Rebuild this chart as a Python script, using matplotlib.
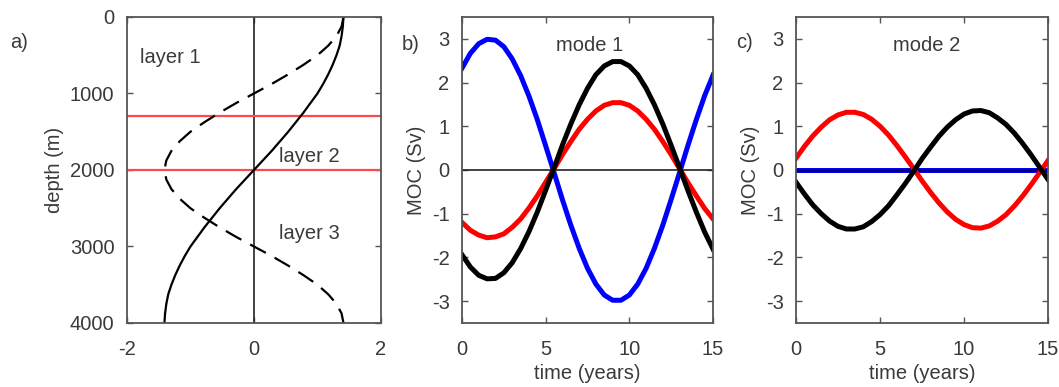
import numpy as np
import matplotlib
matplotlib.use("Agg")
import matplotlib.pyplot as plt

plt.rcParams['font.family'] = ['Liberation Sans', 'DejaVu Sans']
plt.rcParams['font.size'] = 14.5
plt.rcParams['axes.unicode_minus'] = False

# vertical structure of the two modes (a)
depth = [0, 125, 250, 375, 500, 625, 750, 875, 1000, 1125, 1250, 1375, 1500,
         1625, 1750, 1875, 2000, 2125, 2250, 2375, 2500, 2625, 2750, 2875,
         3000, 3125, 3250, 3375, 3500, 3625, 3750, 3875, 4000]
mode1_profile = [1.41, 1.40, 1.38, 1.35, 1.30, 1.24, 1.17, 1.09, 1.00, 0.89,
                 0.78, 0.66, 0.54, 0.41, 0.28, 0.14, 0.00, -0.14, -0.28, -0.41,
                 -0.54, -0.66, -0.78, -0.89, -1.00, -1.09, -1.17, -1.24, -1.30,
                 -1.35, -1.38, -1.40, -1.41]
mode2_profile = [1.41, 1.38, 1.30, 1.17, 1.00, 0.78, 0.54, 0.28, 0.00, -0.28,
                 -0.54, -0.78, -1.00, -1.17, -1.30, -1.38, -1.41, -1.38, -1.30,
                 -1.17, -1.00, -0.78, -0.54, -0.28, 0.00, 0.28, 0.54, 0.78,
                 1.00, 1.17, 1.30, 1.38, 1.41]
layer_bounds = [1300, 2000]

# MOC time series (b, c)
time = [0, 0.5, 1, 1.5, 2, 2.5, 3, 3.5, 4, 4.5, 5, 5.5, 6, 6.5, 7, 7.5, 8, 8.5,
        9, 9.5, 10, 10.5, 11, 11.5, 12, 12.5, 13, 13.5, 14, 14.5, 15]

m1_black = [-1.94, -2.22, -2.41, -2.49, -2.48, -2.35, -2.12, -1.80, -1.41, -0.96,
            -0.46, 0.05, 0.57, 1.05, 1.49, 1.87, 2.18, 2.38, 2.48, 2.48, 2.38,
            2.18, 1.87, 1.49, 1.05, 0.56, 0.05, -0.47, -0.96, -1.42, -1.81]
m1_red = [-1.20, -1.38, -1.49, -1.55, -1.53, -1.46, -1.31, -1.12, -0.87, -0.59,
          -0.28, 0.03, 0.35, 0.65, 0.93, 1.16, 1.35, 1.48, 1.54, 1.54, 1.48,
          1.35, 1.16, 0.93, 0.65, 0.35, 0.03, -0.29, -0.59, -0.88, -1.12]
m1_blue = [2.33, 2.67, 2.89, 2.99, 2.97, 2.82, 2.54, 2.16, 1.69, 1.15, 0.55,
           -0.06, -0.68, -1.26, -1.79, -2.25, -2.61, -2.86, -2.98, -2.98, -2.86,
           -2.61, -2.25, -1.79, -1.26, -0.67, -0.06, 0.56, 1.15, 1.70, 2.17]

m2_black = [-0.28, -0.55, -0.80, -1.00, -1.17, -1.29, -1.35, -1.35, -1.30, -1.18,
            -1.02, -0.82, -0.57, -0.31, -0.03, 0.26, 0.52, 0.77, 0.98, 1.15,
            1.28, 1.35, 1.36, 1.31, 1.19, 1.04, 0.84, 0.60, 0.34, 0.06, -0.22]
m2_red = [0.27, 0.54, 0.78, 0.98, 1.15, 1.26, 1.32, 1.32, 1.27, 1.16, 1.00,
          0.80, 0.56, 0.30, 0.03, -0.25, -0.51, -0.75, -0.96, -1.13, -1.25,
          -1.32, -1.33, -1.28, -1.17, -1.02, -0.82, -0.59, -0.33, -0.06, 0.22]
m2_blue = [0.0] * len(time)

frame_col = '#555555'
text_col = '#3a3a3a'


def style_axes(ax):
    for s in ax.spines.values():
        s.set_color(frame_col)
        s.set_linewidth(1.3)
    ax.tick_params(direction='in', length=4, width=1, color=frame_col,
                   labelcolor=text_col, top=True, right=True, pad=9)
    ax.tick_params(axis='x', pad=12)


fig = plt.figure(figsize=(10.59, 3.87), dpi=100)
ax_a = fig.add_axes([0.1199, 0.1654, 0.2398, 0.7907])
ax_b = fig.add_axes([0.4363, 0.1654, 0.2370, 0.7907])
ax_c = fig.add_axes([0.7517, 0.1654, 0.2380, 0.7907])

# panel a
ax_a.axvline(0, color='#222222', lw=1.2)
for d in layer_bounds:
    ax_a.axhline(d, color='#ff4a4a', lw=1.6)
ax_a.plot(mode1_profile, depth, color='black', lw=1.6)
ax_a.plot(mode2_profile, depth, color='black', lw=1.6, ls=(0, (8, 4.5)))
ax_a.set_xlim(-2, 2)
ax_a.set_ylim(4000, 0)
ax_a.set_xticks([-2, 0, 2])
ax_a.set_yticks([0, 1000, 2000, 3000, 4000])
ax_a.set_ylabel('depth (m)', color=text_col, labelpad=4)
ax_a.text(-1.8, 530, 'layer 1', color=text_col, va='center')
ax_a.text(0.4, 1820, 'layer 2', color=text_col, va='center')
ax_a.text(0.4, 2830, 'layer 3', color=text_col, va='center')
style_axes(ax_a)

# panel b
ax_b.axhline(0, color='#222222', lw=1.2)
ax_b.plot(time, m1_blue, color='#0000ff', lw=3.6)
ax_b.plot(time, m1_red, color='#ff0000', lw=3.6)
ax_b.plot(time, m1_black, color='black', lw=3.6)
ax_b.text(7.6, 2.85, 'mode 1', color=text_col, ha='center', va='center')

# panel c
ax_c.plot(time, m2_blue, color='#0000ff', lw=3.6)
ax_c.axhline(0, color='#000070', lw=2.2)
ax_c.plot(time, m2_red, color='#ff0000', lw=3.6)
ax_c.plot(time, m2_black, color='black', lw=3.6)
ax_c.text(7.8, 2.85, 'mode 2', color=text_col, ha='center', va='center')

for ax in (ax_b, ax_c):
    ax.set_xlim(0, 15)
    ax.set_ylim(-3.5, 3.5)
    ax.set_xticks([0, 5, 10, 15])
    ax.set_yticks([-3, -2, -1, 0, 1, 2, 3])
    ax.set_xlabel('time (years)', color=text_col, labelpad=4)
    ax.set_ylabel('MOC (Sv)', color=text_col, labelpad=4)
    style_axes(ax)

fig.text(10 / 1059, 1 - 43 / 387, 'a)', color=text_col, va='center')
fig.text(402 / 1059, 1 - 45 / 387, 'b)', color=text_col, va='center')
fig.text(736 / 1059, 1 - 43 / 387, 'c)', color=text_col, va='center')

fig.savefig('out.png', dpi=100)
